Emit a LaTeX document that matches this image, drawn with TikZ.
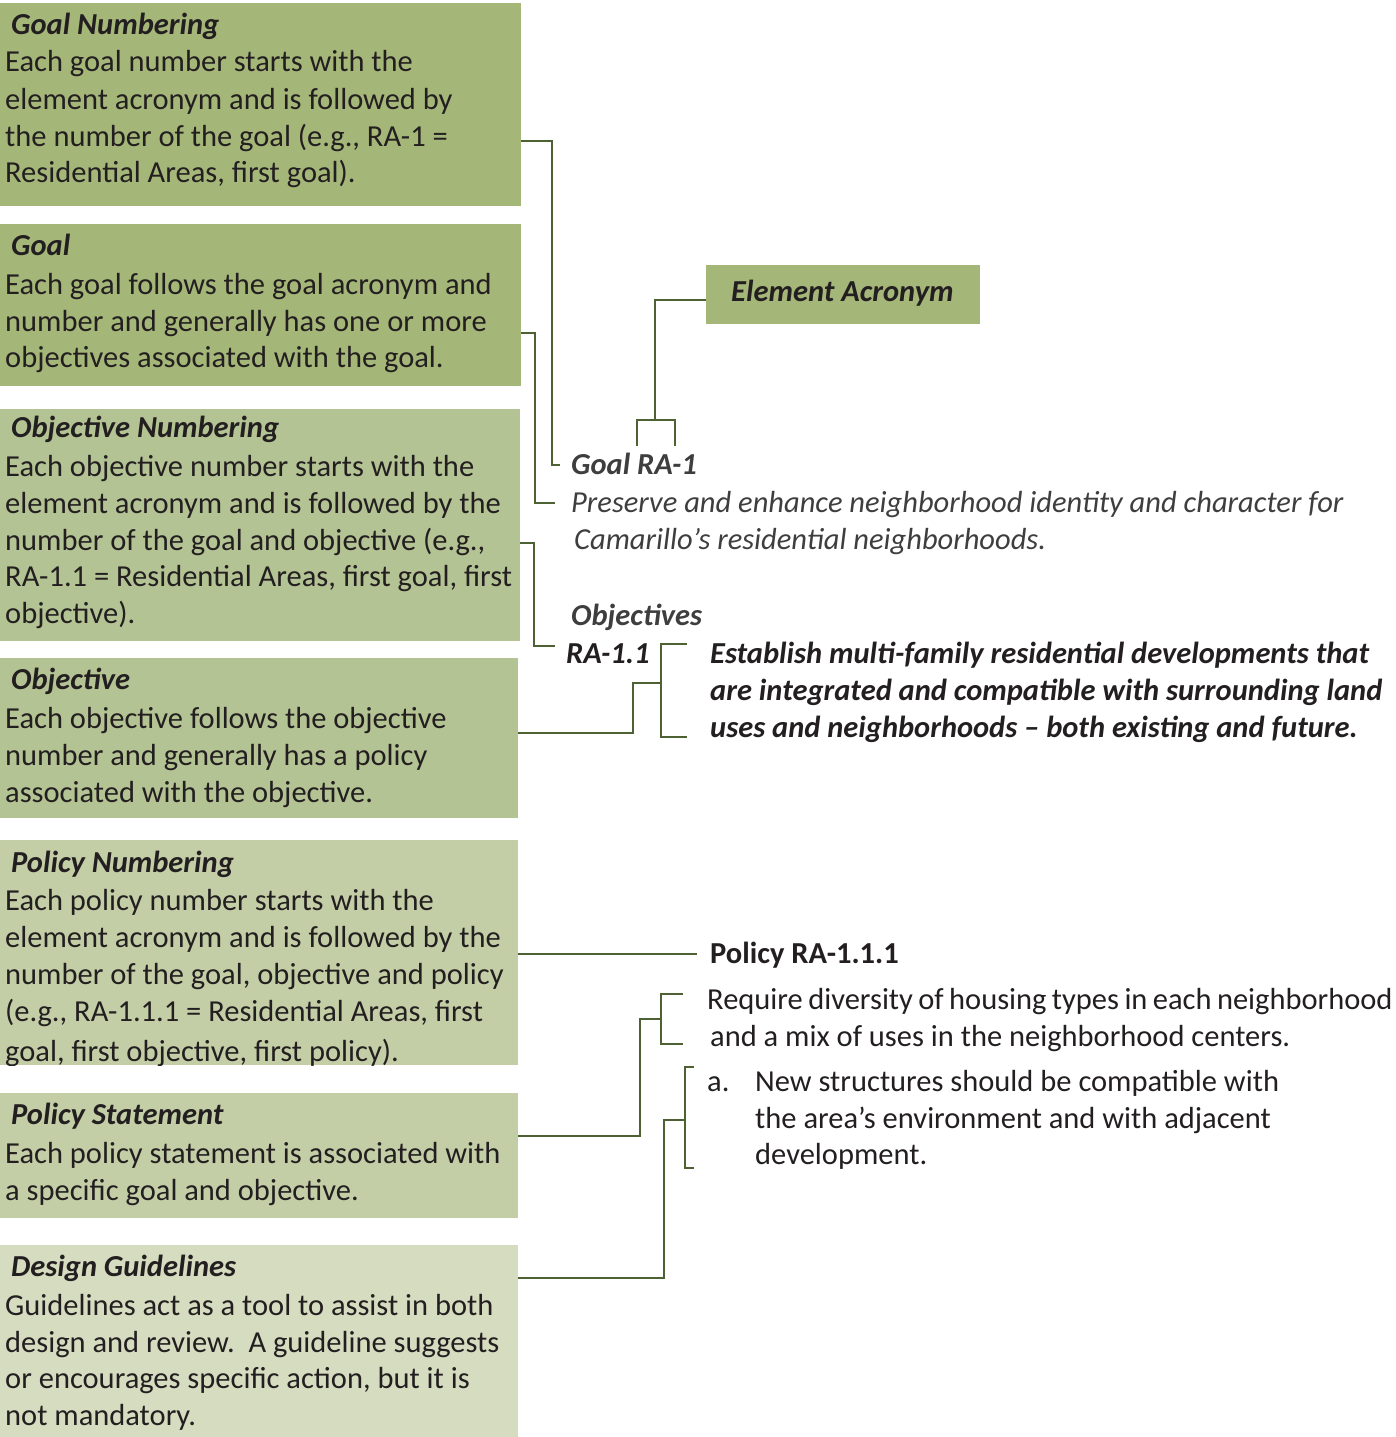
\documentclass[tikz,border=0pt]{standalone}
\usepackage{fontspec}
\setmainfont{Carlito}
\newcommand\myfs{\fontsize{30.5pt}{37pt}\selectfont}
\definecolor{boxA}{HTML}{A5B679}
\definecolor{boxB}{HTML}{B4C393}
\definecolor{boxC}{HTML}{C4CEA6}
\definecolor{boxD}{HTML}{D6DCBF}
\definecolor{lineC}{HTML}{4E6132}
\definecolor{txt}{HTML}{231F20}
\definecolor{gtxt}{HTML}{3E3E3E}
\tikzset{
  panel/.style={anchor=north west, inner sep=0pt, outer sep=0pt, draw=none, fill=#1},
  ttl/.style={anchor=base west, inner sep=0pt, text=txt, font=\myfs\bfseries\itshape},
  bod/.style={anchor=base west, inner sep=0pt, text=txt, font=\myfs},
  git/.style={anchor=base west, inner sep=0pt, text=gtxt, font=\myfs\itshape},
  gbi/.style={anchor=base west, inner sep=0pt, text=gtxt, font=\myfs\bfseries\itshape},
  bbi/.style={anchor=base west, inner sep=0pt, text=txt, font=\myfs\bfseries\itshape},
  bbu/.style={anchor=base west, inner sep=0pt, text=txt, font=\myfs\bfseries},
  conn/.style={draw=lineC, line width=2.6pt}
}
\begin{document}
\begin{tikzpicture}[x=1pt,y=-1pt]
\useasboundingbox (0,0) rectangle (1396,1437);
% panels
\node[panel=boxA, minimum width=521pt, minimum height=203pt] (b1) at (0,3) {};
\node[panel=boxA, minimum width=521pt, minimum height=162pt] (b2) at (0,224) {};
\node[panel=boxB, minimum width=520pt, minimum height=232pt] (b3) at (0,409) {};
\node[panel=boxB, minimum width=518pt, minimum height=160pt] (b4) at (0,658) {};
\node[panel=boxC, minimum width=518pt, minimum height=225pt] (b5) at (0,840) {};
\node[panel=boxC, minimum width=518pt, minimum height=125pt] (b6) at (0,1093) {};
\node[panel=boxD, minimum width=518pt, minimum height=192pt] (b7) at (0,1245) {};
\node[panel=boxA, minimum width=274pt, minimum height=59pt] (ea) at (706,265) {};
% box 1
\node[ttl] (b1t) at (11,35) {Goal Numbering};
\node[bod] (b1l1) at (5,71) {Each goal number starts with the};
\node[bod] (b1l2) at (5,109) {element acronym and is followed by};
\node[bod] (b1l3) at (5,146) {the number of the goal (e.g., RA-1 =};
\node[bod] (b1l4) at (5,182) {Residential Areas, first goal).};
% box 2
\node[ttl] (b2t) at (11,255) {Goal};
\node[bod] (b2l1) at (5,294) {Each goal follows the goal acronym and};
\node[bod] (b2l2) at (5,331) {number and generally has one or more};
\node[bod] (b2l3) at (5,367) {objectives associated with the goal.};
% box 3
\node[ttl] (b3t) at (11,437) {Objective Numbering};
\node[bod] (b3l1) at (5,476) {Each objective number starts with the};
\node[bod] (b3l2) at (5,513) {element acronym and is followed by the};
\node[bod] (b3l3) at (5,550) {number of the goal and objective (e.g.,};
\node[bod] (b3l4) at (5,586) {RA-1.1 = Residential Areas, first goal, first};
\node[bod] (b3l5) at (5,623) {objective).};
% box 4
\node[ttl] (b4t) at (11,689) {Objective};
\node[bod] (b4l1) at (5,728) {Each objective follows the objective};
\node[bod] (b4l2) at (5,765) {number and generally has a policy};
\node[bod] (b4l3) at (5,802) {associated with the objective.};
% box 5 (last line clipped by the panel)
\node[ttl] (b5t) at (11,872) {Policy Numbering};
\node[bod] (b5l1) at (5,910) {Each policy number starts with the};
\node[bod] (b5l2) at (5,947) {element acronym and is followed by the};
\node[bod] (b5l3) at (5,984) {number of the goal, objective and policy};
\node[bod] (b5l4) at (5,1021) {(e.g., RA-1.1.1 = Residential Areas, first};
\begin{scope}
\clip (b5.north west) rectangle (b5.south east);
\node[bod] (b5l5) at (5,1061) {goal, first objective, first policy).};
\end{scope}
% box 6
\node[ttl] (b6t) at (11,1124) {Policy Statement};
\node[bod] (b6l1) at (5,1163) {Each policy statement is associated with};
\node[bod] (b6l2) at (5,1200) {a specific goal and objective.};
% box 7
\node[ttl] (b7t) at (11,1276) {Design Guidelines};
\node[bod] (b7l1) at (5,1315) {Guidelines act as a tool to assist in both};
\node[bod] (b7l2) at (5,1352) {design and review.\ \ A guideline suggests};
\node[bod] (b7l3) at (5,1388) {or encourages specific action, but it is};
\node[bod] (b7l4) at (5,1425) {not mandatory.};
% right side
\node[bbi] (eat) at (731,301) {Element Acronym};
\node[gbi] (gra) at (571,474) {Goal RA-1};
\node[git] (gl1) at (571,512) {Preserve and enhance neighborhood identity and character for};
\node[git] (gl2) at (574,549) {Camarillo’s residential neighborhoods.};
\node[gbi] (obj) at (571,625) {Objectives};
\node[bbi] (ra11) at (566,663) {RA-1.1};
\node[bbi] (ol1) at (710,663) {Establish multi-family residential developments that};
\node[bbi] (ol2) at (710,700) {are integrated and compatible with surrounding land};
\node[bbi] (ol3) at (710,737) {uses and neighborhoods – both existing and future.};
\node[bbu] (pol) at (710,963) {Policy RA-1.1.1};
\node[bod] (pl1) at (707,1009) {\spaceskip=5.4pt\relax Require diversity of housing types in each neighborhood};
\node[bod] (pl2) at (710,1046) {and a mix of uses in the neighborhood centers.};
\node[bod] (ga) at (707,1091) {a.};
\node[bod] (gl1b) at (755,1091) {New structures should be compatible with};
\node[bod] (gl2b) at (755,1128) {the area’s environment and with adjacent};
\node[bod] (gl3b) at (755,1164) {development.};
% free ends
\coordinate (e1) at (560,465);
\coordinate (e2) at (555,503);
\coordinate (e3) at (555,646);
\coordinate (eb) at (655,420);
\coordinate (e4) at (661,683);
\coordinate (e5) at (697,954);
\coordinate (e6) at (661,1019);
\coordinate (e7) at (685,1120);
% connectors
\draw[conn] ([yshift=-138pt]b1.north east) -- ++(31,0) |- (e1);
\draw[conn] ([yshift=-109pt]b2.north east) -- ++(14,0) |- (e2);
\draw[conn] ([yshift=-134pt]b3.north east) -- ++(14,0) |- (e3);
\draw[conn] ([yshift=-35pt]ea.north west) -| (eb);
\draw[conn] (637,446) |- (675,420) -- (675,446);
\draw[conn] ([yshift=-75pt]b4.north east) -| (633,683) -- (e4);
\draw[conn] (687,644) -- (661,644) -- (661,737) -- (687,737);
\draw[conn] ([yshift=-114pt]b5.north east) -- (e5);
\draw[conn] ([yshift=-43pt]b6.north east) -| (640,1019) -- (e6);
\draw[conn] (683,994) -- (661,994) -- (661,1044) -- (683,1044);
\draw[conn] ([yshift=-33pt]b7.north east) -| (664,1120) -- (e7);
\draw[conn] (694,1067) -- (685,1067) -- (685,1168) -- (694,1168);
\end{tikzpicture}
\end{document}
